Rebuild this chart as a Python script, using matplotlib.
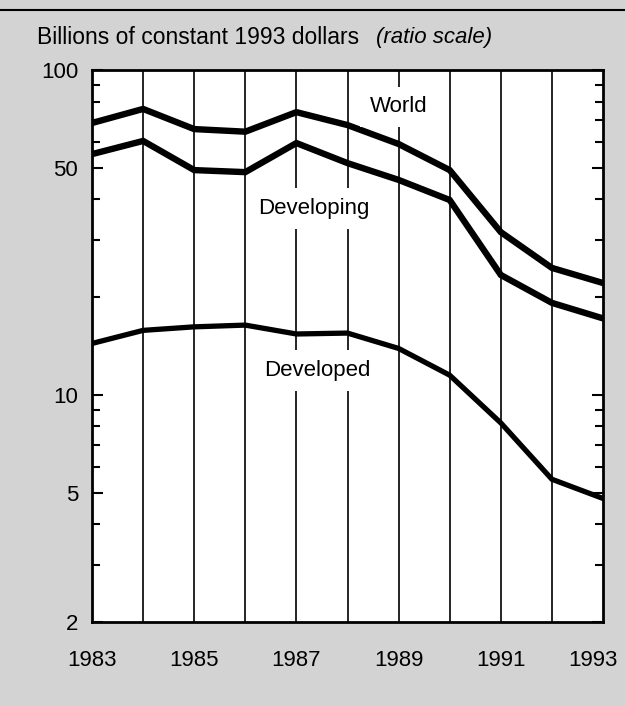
import matplotlib
matplotlib.use("Agg")
from matplotlib import pyplot as plt
from matplotlib.ticker import NullFormatter
from matplotlib.lines import Line2D
from matplotlib.transforms import ScaledTranslation

plt.rcParams['font.family'] = ['Liberation Sans', 'DejaVu Sans']

years = [1983, 1984, 1985, 1986, 1987, 1988, 1989, 1990, 1991, 1992, 1993]
world = [68.7, 75.9, 65.8, 64.6, 74.2, 67.7, 59.2, 49.2, 31.7, 24.6, 22.1]
developing = [55.1, 60.5, 49.2, 48.5, 59.6, 51.7, 45.9, 39.8, 23.4, 19.2, 17.2]
developed = [14.4, 15.8, 16.2, 16.4, 15.4, 15.5, 13.9, 11.5, 8.2, 5.5, 4.8]

year_labels = [1983, 1985, 1987, 1989, 1991, 1993]
y_labels = [2, 5, 10, 50, 100]
y_minor = [3, 4, 6, 7, 8, 9, 20, 30, 40, 60, 70, 80, 90]

fig = plt.figure(figsize=(6.25, 7.06), dpi=100, facecolor='#d3d3d3')

# page rule at the top
fig.lines.append(Line2D([0.0, 1.0], [0.986, 0.986], transform=fig.transFigure,
                        color='black', linewidth=1.5))

ax = fig.add_axes([0.1472, 0.119, 0.8176, 0.7818])
ax.set_facecolor('white')
ax.set_yscale('log')
ax.set_xlim(1983, 1993)
ax.set_ylim(2, 100)

# vertical year lines
for yr in years[1:-1]:
    ax.axvline(yr, color='black', linewidth=1.2, zorder=1)

ax.plot(years, world, color='black', linewidth=4.6, solid_joinstyle='miter', zorder=3)
ax.plot(years, developing, color='black', linewidth=4.6, solid_joinstyle='miter', zorder=3)
ax.plot(years, developed, color='black', linewidth=3.8, solid_joinstyle='miter', zorder=3)

box = dict(facecolor='white', edgecolor='none', pad=7)
ax.text(1989, 77, 'World', ha='center', va='center', fontsize=16, bbox=box, zorder=4)
ax.text(1987.35, 37.5, 'Developing', ha='center', va='center', fontsize=16, bbox=box, zorder=4)
ax.text(1987.4, 11.9, 'Developed', ha='center', va='center', fontsize=16, bbox=box, zorder=4)

ax.set_yticks(y_labels, labels=[str(v) for v in y_labels])
ax.set_yticks(y_minor, minor=True)
ax.yaxis.set_minor_formatter(NullFormatter())
ax.tick_params(axis='y', which='both', direction='in', left=True, right=True,
               width=1.5, labelsize=16, pad=10)
ax.tick_params(axis='y', which='major', length=8)
ax.tick_params(axis='y', which='minor', length=6)

ax.set_xticks(year_labels, labels=[str(v) for v in year_labels])
ax.tick_params(axis='x', length=0, labelsize=16, pad=20)
# last year label sits a little left so it stays on the page
last = ax.get_xticklabels()[-1]
last.set_transform(last.get_transform() + ScaledTranslation(-7 / 72, 0, fig.dpi_scale_trans))

for s in ax.spines.values():
    s.set_linewidth(2)

fig.text(0.059, 0.947, 'Billions of constant 1993 dollars', fontsize=16.5,
         ha='left', va='center')
fig.text(0.601, 0.947, '(ratio scale)', fontsize=16, style='italic',
         ha='left', va='center')

fig.savefig('out.png', dpi=100, facecolor=fig.get_facecolor())
